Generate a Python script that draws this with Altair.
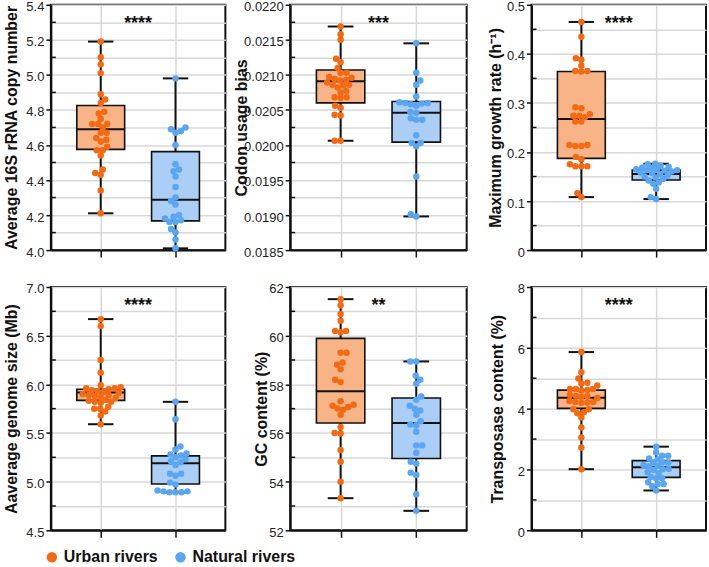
import json
import altair as alt
import pandas as pd

GROUPS = ["Urban rivers", "Natural rivers"]
POINT_COLORS = ["#F26B14", "#5AA6F0"]
BOX_FILLS = ["#F8B387", "#AACEF5"]
INK = "#111111"
FONT = "Liberation Sans"

# ---- measured values (box summaries: min, q1, median, q3, max) ----
copy_urban = [5.19, 5.10, 5.06, 5.01, 4.89, 4.86, 4.84, 4.79, 4.78, 4.75, 4.72, 4.72,
              4.72, 4.70, 4.67, 4.67, 4.64, 4.63, 4.62, 4.59, 4.57, 4.57, 4.54, 4.46,
              4.44, 4.43, 4.34, 4.21]
copy_natural = [4.98, 4.70, 4.69, 4.68, 4.67, 4.60, 4.49, 4.46, 4.45, 4.42, 4.36, 4.30,
                4.28, 4.26, 4.20, 4.19, 4.18, 4.17, 4.16, 4.16, 4.12, 4.10, 4.06, 4.01]
copy_box_urban = [4.21, 4.575, 4.69, 4.825, 5.19]
copy_box_natural = [4.01, 4.167, 4.287, 4.562, 4.98]

codon_urban = [0.02169, 0.02158, 0.02150, 0.02123, 0.02118, 0.02110, 0.02103, 0.02103,
               0.02097, 0.02096, 0.02094, 0.02093, 0.02092, 0.02089, 0.02086, 0.02086,
               0.02085, 0.02082, 0.02077, 0.02075, 0.02068, 0.02068, 0.02067, 0.02056,
               0.02053, 0.02043, 0.02042, 0.02006, 0.02006]
codon_natural = [0.02145, 0.02103, 0.02092, 0.02086, 0.02069, 0.02061, 0.02060, 0.02060,
                 0.02059, 0.02058, 0.02056, 0.02047, 0.02046, 0.02038, 0.02036, 0.02036,
                 0.02014, 0.02003, 0.02003, 0.01998, 0.01955, 0.01901, 0.01898]
codon_box_urban = [0.02006, 0.02060, 0.02091, 0.02107, 0.02169]
codon_box_natural = [0.01898, 0.02004, 0.02046, 0.02062, 0.02145]

growth_urban = [0.465, 0.435, 0.391, 0.388, 0.376, 0.365, 0.364, 0.365, 0.291, 0.289,
                0.277, 0.274, 0.274, 0.271, 0.262, 0.262, 0.214, 0.214, 0.212, 0.212,
                0.190, 0.185, 0.175, 0.171, 0.171, 0.171, 0.116, 0.108]
growth_natural = [0.176, 0.175, 0.172, 0.170, 0.168, 0.167, 0.165, 0.164, 0.163, 0.163,
                  0.162, 0.160, 0.158, 0.157, 0.155, 0.152, 0.150, 0.148, 0.145, 0.142,
                  0.138, 0.135, 0.125, 0.108, 0.104]
growth_box_urban = [0.108, 0.187, 0.267, 0.364, 0.465]
growth_box_natural = [0.104, 0.143, 0.155, 0.163, 0.176]

genome_urban = [6.67, 6.60, 6.25, 6.12, 5.99, 5.97, 5.96, 5.96, 5.95, 5.94, 5.93, 5.92,
                5.91, 5.90, 5.89, 5.89, 5.88, 5.87, 5.86, 5.84, 5.83, 5.82, 5.82, 5.81,
                5.77, 5.75, 5.75, 5.72, 5.68, 5.59]
genome_natural = [5.82, 5.64, 5.36, 5.33, 5.29, 5.28, 5.27, 5.25, 5.23, 5.21, 5.20, 5.17,
                  5.08, 5.08, 5.06, 4.99, 4.97, 4.91, 4.90, 4.90, 4.89, 4.89, 4.89]
genome_box_urban = [5.59, 5.835, 5.915, 5.95, 6.67]
genome_box_natural = [4.89, 4.975, 5.19, 5.265, 5.82]

gc_urban = [61.50, 61.25, 60.89, 60.61, 60.19, 60.19, 60.14, 59.30, 59.30, 58.90, 58.80,
            58.62, 58.19, 58.09, 57.30, 57.16, 57.12, 57.07, 57.01, 56.96, 56.75, 56.25,
            56.00, 55.98, 55.30, 54.82, 54.00, 53.32]
gc_natural = [58.94, 58.94, 58.35, 58.19, 58.02, 57.50, 57.37, 57.12, 57.00, 56.92, 56.75,
              56.48, 56.35, 56.32, 56.05, 55.49, 55.49, 55.19, 54.82, 54.74, 54.37, 54.27,
              53.48, 52.80]
gc_box_urban = [53.32, 56.41, 57.71, 59.89, 61.50]
gc_box_natural = [52.80, 54.95, 56.41, 57.44, 58.94]

transposase_urban = [5.86, 5.20, 4.99, 4.85, 4.83, 4.76, 4.65, 4.65, 4.65, 4.61, 4.60, 4.45,
                     4.42, 4.41, 4.38, 4.35, 4.25, 4.22, 4.22, 4.20, 4.19, 3.98, 3.98, 3.88,
                     3.85, 3.71, 3.38, 3.05, 2.72, 2.01]
transposase_natural = [2.75, 2.56, 2.45, 2.45, 2.36, 2.34, 2.23, 2.23, 2.23, 2.15, 2.12,
                       2.10, 2.02, 2.01, 1.98, 1.91, 1.88, 1.75, 1.71, 1.71, 1.58, 1.52,
                       1.52, 1.45, 1.31]
transposase_box_urban = [2.01, 4.01, 4.36, 4.61, 5.86]
transposase_box_natural = [1.31, 1.74, 2.07, 2.29, 2.75]

PANELS = [
    dict(title="Average 16S rRNA copy number", vals=(copy_urban, copy_natural),
         boxes=(copy_box_urban, copy_box_natural), domain=(4.0, 5.4), minor=0.1,
         major=0.2, fmt=".1f", stars="****", width=175, height=246, tpad=31),
    dict(title="Codon usage bias", vals=(codon_urban, codon_natural),
         boxes=(codon_box_urban, codon_box_natural), domain=(0.0185, 0.0220),
         minor=0.00025, major=0.0005, fmt=".4f", stars="***", width=177, height=246, tpad=41),
    dict(title="Maximum growth rate (h⁻¹)", vals=(growth_urban, growth_natural),
         boxes=(growth_box_urban, growth_box_natural), domain=(0.0, 0.5), minor=0.05,
         major=0.1, fmt="~g", stars="****", width=175, height=246, tpad=28),
    dict(title="Aaverage genome size (Mb)", vals=(genome_urban, genome_natural),
         boxes=(genome_box_urban, genome_box_natural), domain=(4.5, 7.0), minor=0.25,
         major=0.5, fmt=".1f", stars="****", width=175, height=244, tpad=31),
    dict(title="GC content (%)", vals=(gc_urban, gc_natural),
         boxes=(gc_box_urban, gc_box_natural), domain=(52.0, 62.0), minor=1.0,
         major=2.0, fmt="d", stars="**", width=177, height=244, tpad=21),
    dict(title="Transposase content (%)", vals=(transposase_urban, transposase_natural),
         boxes=(transposase_box_urban, transposase_box_natural), domain=(0.0, 8.0),
         minor=1.0, major=2.0, fmt="d", stars="****", width=175, height=244, tpad=26),
]

X_DOMAIN = [1 / 3, 8 / 3]
BOX_HALF = 0.32
CAP_HALF = 0.17
CLEAR = 5.6      # centre-to-centre clearance between dots, px (dots may overlap a little)
MAX_SPREAD = 22  # dots stay inside the box width, px


def tick_list(lo, hi, step):
    n = int(round((hi - lo) / step))
    return [round(lo + i * step, 6) for i in range(n + 1)]


def swarm(vals, px_per_unit, px_per_x):
    """Deterministic column scatter: each dot takes the nearest sideways slot that clears
    the dots already placed, staying within the box; if none clears, the roomiest slot."""
    order = sorted(range(len(vals)), key=lambda i: vals[i])
    placed, out = [], [0.0] * len(vals)
    slots = [0.0]
    k = 1
    while k * 0.5 <= MAX_SPREAD:
        slots += [k * 0.5, -k * 0.5]
        k += 1
    for n, i in enumerate(order):
        y = vals[i] * px_per_unit
        best, best_gap = 0.0, -1.0
        for s in slots:
            x = s if n % 2 == 0 else -s
            gap = min([((x - px) ** 2 + (y - py) ** 2) ** 0.5 for px, py in placed] or [1e9])
            if gap >= CLEAR:
                best = x
                break
            if gap > best_gap:
                best, best_gap = x, gap
        placed.append((best, y))
        out[i] = best / px_per_x
    return out


LEGEND = alt.Legend(
    title=None, orient="none", direction="horizontal", legendX=-7, legendY=546,
    labelFont=FONT, labelFontSize=16, labelFontWeight="bold", labelColor=INK,
    symbolType="circle", symbolSize=110, symbolStrokeWidth=0,
    labelOffset=4, columnPadding=14,
)


def panel(spec):
    lo, hi = spec["domain"]
    w, h = spec["width"], spec["height"]
    px_per_unit = h / (hi - lo)
    px_per_x = w / (X_DOMAIN[1] - X_DOMAIN[0])

    rows = []
    for gi, (grp, vals) in enumerate(zip(GROUPS, spec["vals"])):
        offs = swarm(vals, px_per_unit, px_per_x)
        for v, o in zip(vals, offs):
            rows.append({"grp": grp, "value": v, "xpos": gi + 1 + o})
    pts = pd.DataFrame(rows)

    stats = pd.DataFrame([
        {"grp": grp, "xc": gi + 1, "lo": b[0], "q1": b[1], "med": b[2], "q3": b[3], "hi": b[4]}
        for gi, (grp, b) in enumerate(zip(GROUPS, spec["boxes"]))
    ])

    all_ticks = tick_list(lo, hi, spec["minor"])
    majors = tick_list(lo, hi, spec["major"])
    minors = [t for t in all_ticks if t not in majors]
    maj_js = json.dumps(majors)

    yscale = alt.Scale(domain=[lo, hi], nice=False, zero=False)
    yaxis = alt.Axis(
        values=all_ticks, title=spec["title"], titlePadding=spec["tpad"],
        minExtent=0, maxExtent=0,
        labelExpr=f"indexof({maj_js}, datum.value) < 0 ? '' : format(datum.value, '{spec['fmt']}')",
        tickSize={"condition": {"test": f"indexof({maj_js}, datum.value) >= 0", "value": 5}, "value": 0},
        labelPadding=2, labelOffset=2,
    )
    xscale = alt.Scale(domain=X_DOMAIN, nice=False, zero=False)
    xaxis = alt.Axis(values=[1, 2], labels=False, title=None, tickSize=7)

    def X(f):
        return alt.X(f"{f}:Q", scale=xscale, axis=xaxis)

    def Y(f):
        return alt.Y(f"{f}:Q", scale=yscale, axis=yaxis)

    base = alt.Chart(stats).transform_calculate(
        xl=f"datum.xc - {BOX_HALF}", xr=f"datum.xc + {BOX_HALF}",
        cl=f"datum.xc - {CAP_HALF}", cr=f"datum.xc + {CAP_HALF}",
    )
    whisker = base.mark_rule(color=INK, strokeWidth=2).encode(x=X("xc"), y=Y("lo"), y2="hi")
    cap_lo = base.mark_rule(color=INK, strokeWidth=2).encode(x=X("cl"), x2="cr", y=Y("lo"))
    cap_hi = base.mark_rule(color=INK, strokeWidth=2).encode(x=X("cl"), x2="cr", y=Y("hi"))
    boxes = [
        base.transform_filter(alt.datum.grp == grp).mark_bar(
            fill=fill, stroke=INK, strokeWidth=1.6, cornerRadius=0
        ).encode(x=X("xl"), x2="xr", y=Y("q1"), y2="q3")
        for grp, fill in zip(GROUPS, BOX_FILLS)
    ]
    median = base.mark_rule(color=INK, strokeWidth=2).encode(x=X("xl"), x2="xr", y=Y("med"))

    minor_ticks = alt.Chart(pd.DataFrame({"t": minors})).mark_rule(
        color=INK, strokeWidth=1.5
    ).encode(y=Y("t"), x=alt.value(0), x2=alt.value(5))

    dots = alt.Chart(pts).mark_circle(size=42, opacity=1).encode(
        x=X("xpos"), y=Y("value"),
        color=alt.Color("grp:N", scale=alt.Scale(domain=GROUPS, range=POINT_COLORS),
                        legend=LEGEND),
    )

    stars = alt.Chart(pd.DataFrame({"s": [spec["stars"]], "mid": [1.5]})).mark_text(
        font=FONT, fontSize=18, fontWeight="bold", color=INK, baseline="middle"
    ).encode(x=X("mid"), y=alt.value(19), text="s:N")

    return alt.layer(minor_ticks, whisker, cap_lo, cap_hi, *boxes, median, dots, stars).properties(
        width=w, height=h
    )


chart = alt.concat(
    *[panel(p) for p in PANELS], columns=3,
    spacing={"row": 37, "column": 65}, bounds="flush", align="each",
).resolve_scale(
    x="independent", y="independent", color="shared"
).properties(
    padding={"left": 2, "top": -1, "right": 2, "bottom": 0}
).configure(
    background="white"
).configure_view(
    stroke=INK, strokeWidth=2
).configure_axis(
    labelFont=FONT, labelFontSize=13, labelColor="#222222",
    titleFont=FONT, titleFontSize=16, titleFontWeight="bold", titleColor=INK,
    domainColor=INK, domainWidth=2, tickColor=INK, tickWidth=1.5,
    gridColor="#d8d8d8", gridWidth=1.5, grid=True,
)

chart.save("out.html", embed_options={"renderer": "svg", "actions": False})
